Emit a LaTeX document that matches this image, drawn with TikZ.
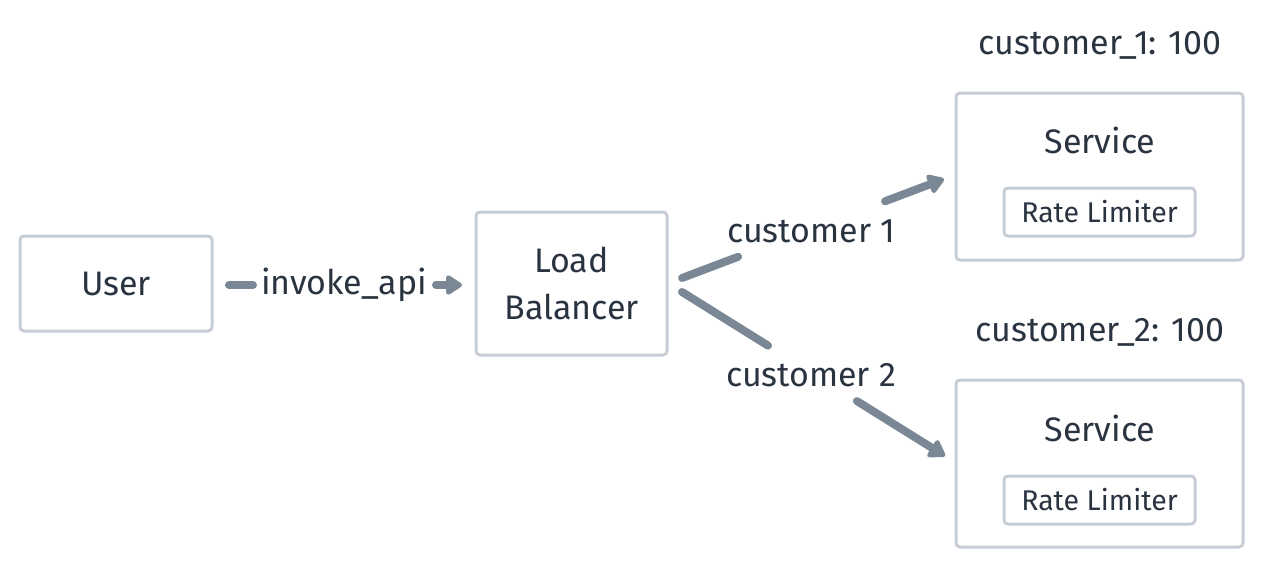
\documentclass[tikz,border=0pt]{standalone}
\usepackage{fontspec}
\setmainfont{Fira Sans}
\usetikzlibrary{arrows.meta,calc}
\definecolor{txt}{HTML}{2A3441}
\definecolor{bord}{HTML}{C6CDD5}
\definecolor{edge}{HTML}{7A8795}
\begin{document}
\begin{tikzpicture}[x=1pt,y=-1pt,
  box/.style={draw=bord,line width=3pt,rounded corners=4pt,inner sep=0pt},
  big/.style={text=txt,font=\fontsize{34}{47}\selectfont},
  small/.style={text=txt,font=\fontsize{28.5}{32}\selectfont},
  seg/.style={draw=edge,line width=8pt,line cap=round},
  conn/.style={seg,-{Triangle[length=18pt,width=22pt,round]}},
  lbl/.style={inner sep=0pt,text=txt,font=\fontsize{34}{40}\selectfont},
]
\useasboundingbox (0,0) rectangle (1264,568);
\node[box,minimum width=192pt,minimum height=95pt] (user) at (116,283.5) {};
\node[big] at (user.center) {User};
\node[box,minimum width=191pt,minimum height=143pt] (lb) at (571.5,283.5) {};
\node[big,align=center] at (lb.center) {Load\\Balancer};
\node[box,minimum width=287pt,minimum height=167pt] (s1) at (1099.5,176.5) {};
\node[big] (s1t) at (1100,140) {Service};
\node[box,minimum width=191pt,minimum height=48pt] (r1) at (1099.5,212) {};
\node[small] at (r1.center) {Rate Limiter};
\node[big] (c1) at (1100,45) {customer\_1: 100};
\node[box,minimum width=287pt,minimum height=167pt] (s2) at (1099.5,463.5) {};
\node[big] (s2t) at (1100,428) {Service};
\node[box,minimum width=191pt,minimum height=48pt] (r2) at (1099.5,500) {};
\node[small] at (r2.center) {Rate Limiter};
\node[big] (c2) at (1100,332) {customer\_2: 100};
\coordinate (a0) at (229,285);
\coordinate (a1) at (462,285);
\coordinate (b0) at (682,278);
\coordinate (b1) at (944,179);
\coordinate (d0) at (682,292);
\coordinate (d1) at (945,456);
% invoke_api
\coordinate (a2) at (253,285);
\coordinate (a3) at (436,285);
\node[lbl] (la) at (344,285) {invoke\_api};
\draw[seg] (a0) -- (a2);
\draw[conn] (a3) -- (a1);
% customer 1
\coordinate (b2) at ($(b0)!0.214!(b1)$);
\coordinate (b3) at ($(b0)!0.775!(b1)$);
\node[lbl] (lb1) at (811,231) {customer 1};
\draw[seg] (b0) -- (b2);
\draw[conn] (b3) -- (b1);
% customer 2
\coordinate (d2) at ($(d0)!0.327!(d1)$);
\coordinate (d3) at ($(d0)!0.665!(d1)$);
\node[lbl] (ld2) at (811,375) {customer 2};
\draw[seg] (d0) -- (d2);
\draw[conn] (d3) -- (d1);
\end{tikzpicture}
\end{document}
